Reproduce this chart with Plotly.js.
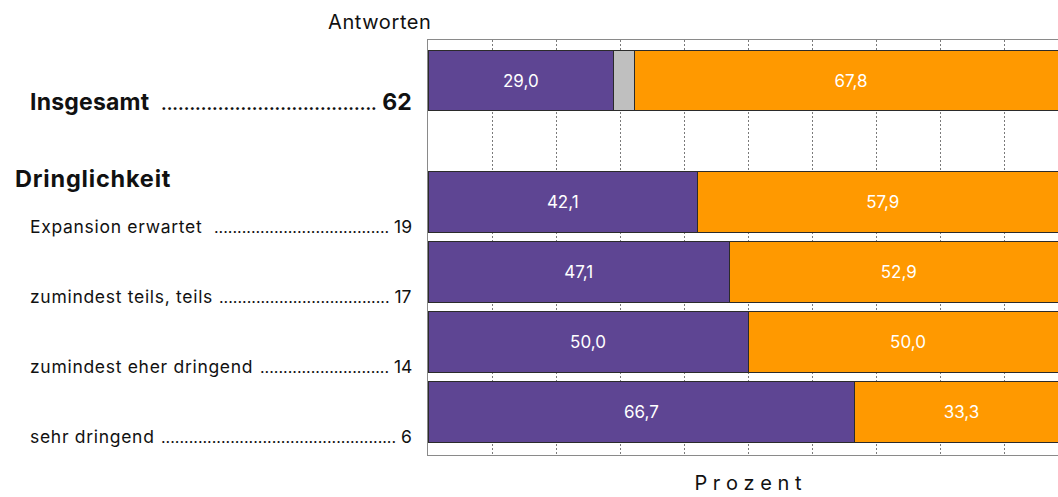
<!DOCTYPE html>
<html>
<head>
<meta charset="utf-8">
<script src="https://cdn.plot.ly/plotly-3.0.1.min.js"></script>
<style>
  html, body { margin: 0; padding: 0; overflow: hidden; background: #fff; }
  #chart { width: 1070px; height: 497px; }
</style>
</head>
<body>
<div id="chart"></div>
<script>
// ---- data ----
const categories = ['Insgesamt', 'Expansion erwartet', 'zumindest teils, teils', 'zumindest eher dringend', 'sehr dringend'];
const counts = [62, 19, 17, 14, 6];
const seriesA = [29.0, 42.1, 47.1, 50.0, 66.7];   // violett
const seriesB = [3.2, null, null, null, null];     // grau
const seriesC = [67.8, 57.9, 52.9, 50.0, 33.3];   // orange
const groupTitle = 'Dringlichkeit';
const countHeader = 'Antworten';
const xTitle = 'Prozent';

// ---- layout helpers ----
const GAP = 0.736;                     // extra space before the group
const ypos = categories.map((c, i) => i === 0 ? 0 : i + GAP);
const FONT = 'Inter, "Noto Sans", sans-serif';
const lineStyle = { color: '#2b2b2b', width: 1 };
const barWidth = 0.86;

function bar(name, vals, color, showText) {
  return {
    type: 'bar', orientation: 'h', name: name,
    x: vals, y: ypos, width: barWidth,
    marker: { color: color, line: lineStyle },
    texttemplate: showText ? '%{x:.1f}' : '',
    textposition: showText ? 'inside' : 'none',
    insidetextanchor: 'middle',
    textfont: { color: '#ffffff', size: 17, family: FONT },
    hoverinfo: 'x+name'
  };
}

const traces = [
  bar('A', seriesA, '#5e4593', true),
  bar('B', seriesB, '#bfbfbf', false),
  bar('C', seriesC, '#ff9900', true)
];

const px = p => (p - 428) / 640;
const dotCounts = [38, 38, 37, 28, 51];
const annotations = [];
categories.forEach((c, i) => {
  const main = i === 0;
  const size = main ? 23 : 17.5;
  const y = ypos[i] + (main ? 0.31 : 0.35);
  const ls = main ? 0.2 : 0.7;
  annotations.push({
    xref: 'paper', yref: 'y', x: px(28), y: y,
    xanchor: 'left', yanchor: 'middle', showarrow: false,
    text: '<span style="letter-spacing:' + ls + 'px">' + (main ? '<b>' + c + '</b>' : c) + '</span>',
    font: { size: size, family: FONT, color: '#111' }
  });
  const dots = '<span style="font-size:' + (main ? 17 : 16) + 'px">' + '.'.repeat(dotCounts[i]) + '</span>';
  annotations.push({
    xref: 'paper', yref: 'y', x: px(414), y: y,
    xanchor: 'right', yanchor: 'middle', showarrow: false,
    text: main ? '<b>' + dots + ' ' + counts[i] + '</b>' : dots + ' ' + counts[i],
    font: { size: size, family: FONT, color: '#111' }
  });
});
annotations.push({
  xref: 'paper', yref: 'y', x: px(13), y: ypos[1] - 0.335,
  xanchor: 'left', yanchor: 'middle', showarrow: false,
  text: '<span style="letter-spacing:0.8px"><b>' + groupTitle + '</b></span>',
  font: { size: 23.5, family: FONT, color: '#111' }
});
annotations.push({
  xref: 'paper', yref: 'paper', x: px(434), y: 1, yshift: 18,
  xanchor: 'right', yanchor: 'middle', showarrow: false,
  text: '<span style="letter-spacing:0.6px">' + countHeader + '</span>',
  font: { size: 20, family: FONT, color: '#111' }
});

const layout = {
  width: 1070, height: 497,
  margin: { l: 428, r: 2, t: 40, b: 42 },
  paper_bgcolor: '#fff', plot_bgcolor: '#fff',
  barmode: 'stack', showlegend: false,
  separators: ',.',
  font: { family: FONT, color: '#111' },
  xaxis: {
    range: [0, 100], dtick: 10, showticklabels: false, ticks: '',
    showgrid: true, gridcolor: '#7a7a7a', griddash: '2px,2px', gridwidth: 1,
    zeroline: false, showline: true, mirror: true, linecolor: '#8a8a8a', linewidth: 1,
    title: { text: xTitle.split('').join(' '), font: { size: 20, family: FONT, color: '#111' }, standoff: 20 },
    fixedrange: true
  },
  yaxis: {
    range: [5.35, -0.579], showticklabels: false, ticks: '',
    showgrid: false, zeroline: false, showline: true, mirror: true,
    linecolor: '#8a8a8a', linewidth: 1, fixedrange: true
  },
  annotations: annotations
};

Plotly.newPlot('chart', traces, layout, { displayModeBar: false, staticPlot: true });
</script>
</body>
</html>
